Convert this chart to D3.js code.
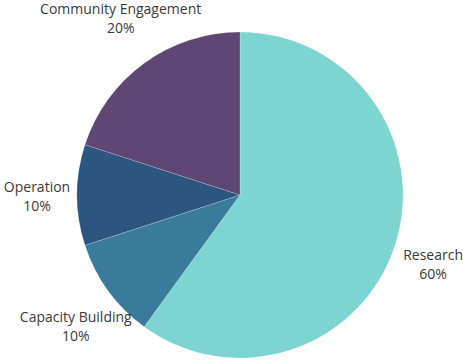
<!DOCTYPE html>
<html><head><meta charset="utf-8">
<script src="https://cdn.jsdelivr.net/npm/d3@7"></script>
<style>body{margin:0;background:#fff}svg{display:block}</style>
</head><body><svg id="c" width="463" height="360"></svg>
<script>
const categories = ["Research", "Capacity Building", "Operation", "Community Engagement"];
const values = [60, 10, 10, 20];
const colors = ["#7dd5d2", "#3a7b9c", "#2c5680", "#5e4774"];

const W = 463, H = 360, cx = 240, cy = 195, r = 163;
const svg = d3.select("#c");
const g = svg.append("g").attr("transform", `translate(${cx},${cy})`);
const data = categories.map((c, i) => ({name: c, value: values[i], color: colors[i]}));
const pie = d3.pie().value(d => d.value).sort(null);
const arc = d3.arc().innerRadius(0).outerRadius(r);
const arcs = pie(data);
g.selectAll("path").data(arcs).join("path")
  .attr("d", arc).attr("fill", d => d.data.color)
  .attr("stroke", "#fff").attr("stroke-width", 0.4).attr("stroke-opacity", 0.5);

const labR = 203, halfH = 17;
const lab = g.selectAll("text").data(arcs).join("text")
  .attr("text-anchor", "middle")
  .attr("font-family", "'Open Sans', sans-serif")
  .attr("font-size", 14).attr("fill", "#3a3a3a")
  .attr("transform", d => {
    const a = (d.startAngle + d.endAngle) / 2;
    const c = Math.cos(a);
    const x = Math.sin(a) * labR;
    const y = -c * (labR + halfH);
    return `translate(${x},${y})`;
  });
lab.append("tspan").attr("x", 0).attr("dy", "-0.2em").text(d => d.data.name);
lab.append("tspan").attr("x", 0).attr("dy", "1.36em").text(d => d.data.value + "%");
</script></body></html>
